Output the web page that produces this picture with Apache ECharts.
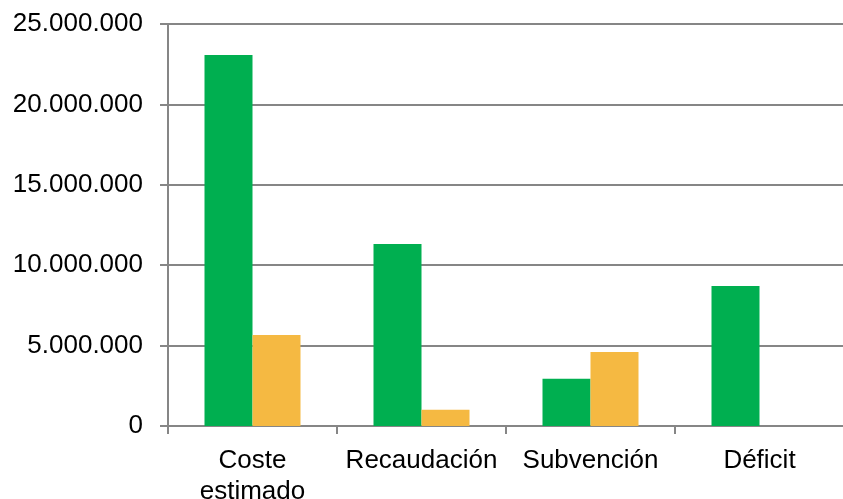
<!DOCTYPE html>
<html>
<head>
<meta charset="utf-8">
<script src="https://cdn.jsdelivr.net/npm/echarts@6/dist/echarts.min.js"></script>
<style>
  html, body { margin: 0; padding: 0; background: #fff; }
  #main { width: 843px; height: 499px; }
</style>
</head>
<body>
<div id="main"></div>
<script>
var categories = ['Coste\nestimado', 'Recaudación', 'Subvención', 'Déficit']
var serieVerde = [23070000, 11320000, 2940000, 8710000]
var serieAmarilla = [5660000, 1010000, 4600000, 0]
var yTicks = [0, 5000000, 10000000, 15000000, 20000000, 25000000]

// formato con punto de miles
function fmt(v) {
    return String(v).replace(/\B(?=(\d{3})+(?!\d))/g, '.')
}

var chart = echarts.init(document.getElementById('main'))

var option = {
    animation: false,
    grid: { left: 168, right: -1, top: 24, bottom: 73, outerBoundsMode: 'none', containLabel: false },
    xAxis: {
        type: 'category',
        data: categories,
        axisLine: { lineStyle: { color: '#868686', width: 2 } },
        axisTick: { show: true, length: 8, lineStyle: { color: '#868686', width: 2 } },
        axisLabel: {
            interval: 0,
            color: '#000',
            fontFamily: 'Liberation Sans, Arial',
            fontSize: 26,
            lineHeight: 31,
            margin: 19
        }
    },
    yAxis: {
        type: 'value',
        min: yTicks[0],
        max: yTicks[yTicks.length - 1],
        interval: 5000000,
        axisLine: { show: true, lineStyle: { color: '#868686', width: 2 } },
        axisTick: { show: true, length: 8, lineStyle: { color: '#868686', width: 2 } },
        splitLine: { lineStyle: { color: '#868686', width: 2 } },
        axisLabel: {
            color: '#000',
            fontFamily: 'Liberation Sans, Arial',
            fontSize: 26,
            margin: 25,
            formatter: fmt
        }
    },
    series: [
        {
            type: 'bar',
            data: serieVerde,
            barWidth: 48,
            barGap: '0%',
            itemStyle: { color: '#00AF50' }
        },
        {
            type: 'bar',
            data: serieAmarilla,
            barWidth: 48,
            itemStyle: { color: '#F5B942' }
        }
    ]
}

chart.setOption(option)
</script>
</body>
</html>
